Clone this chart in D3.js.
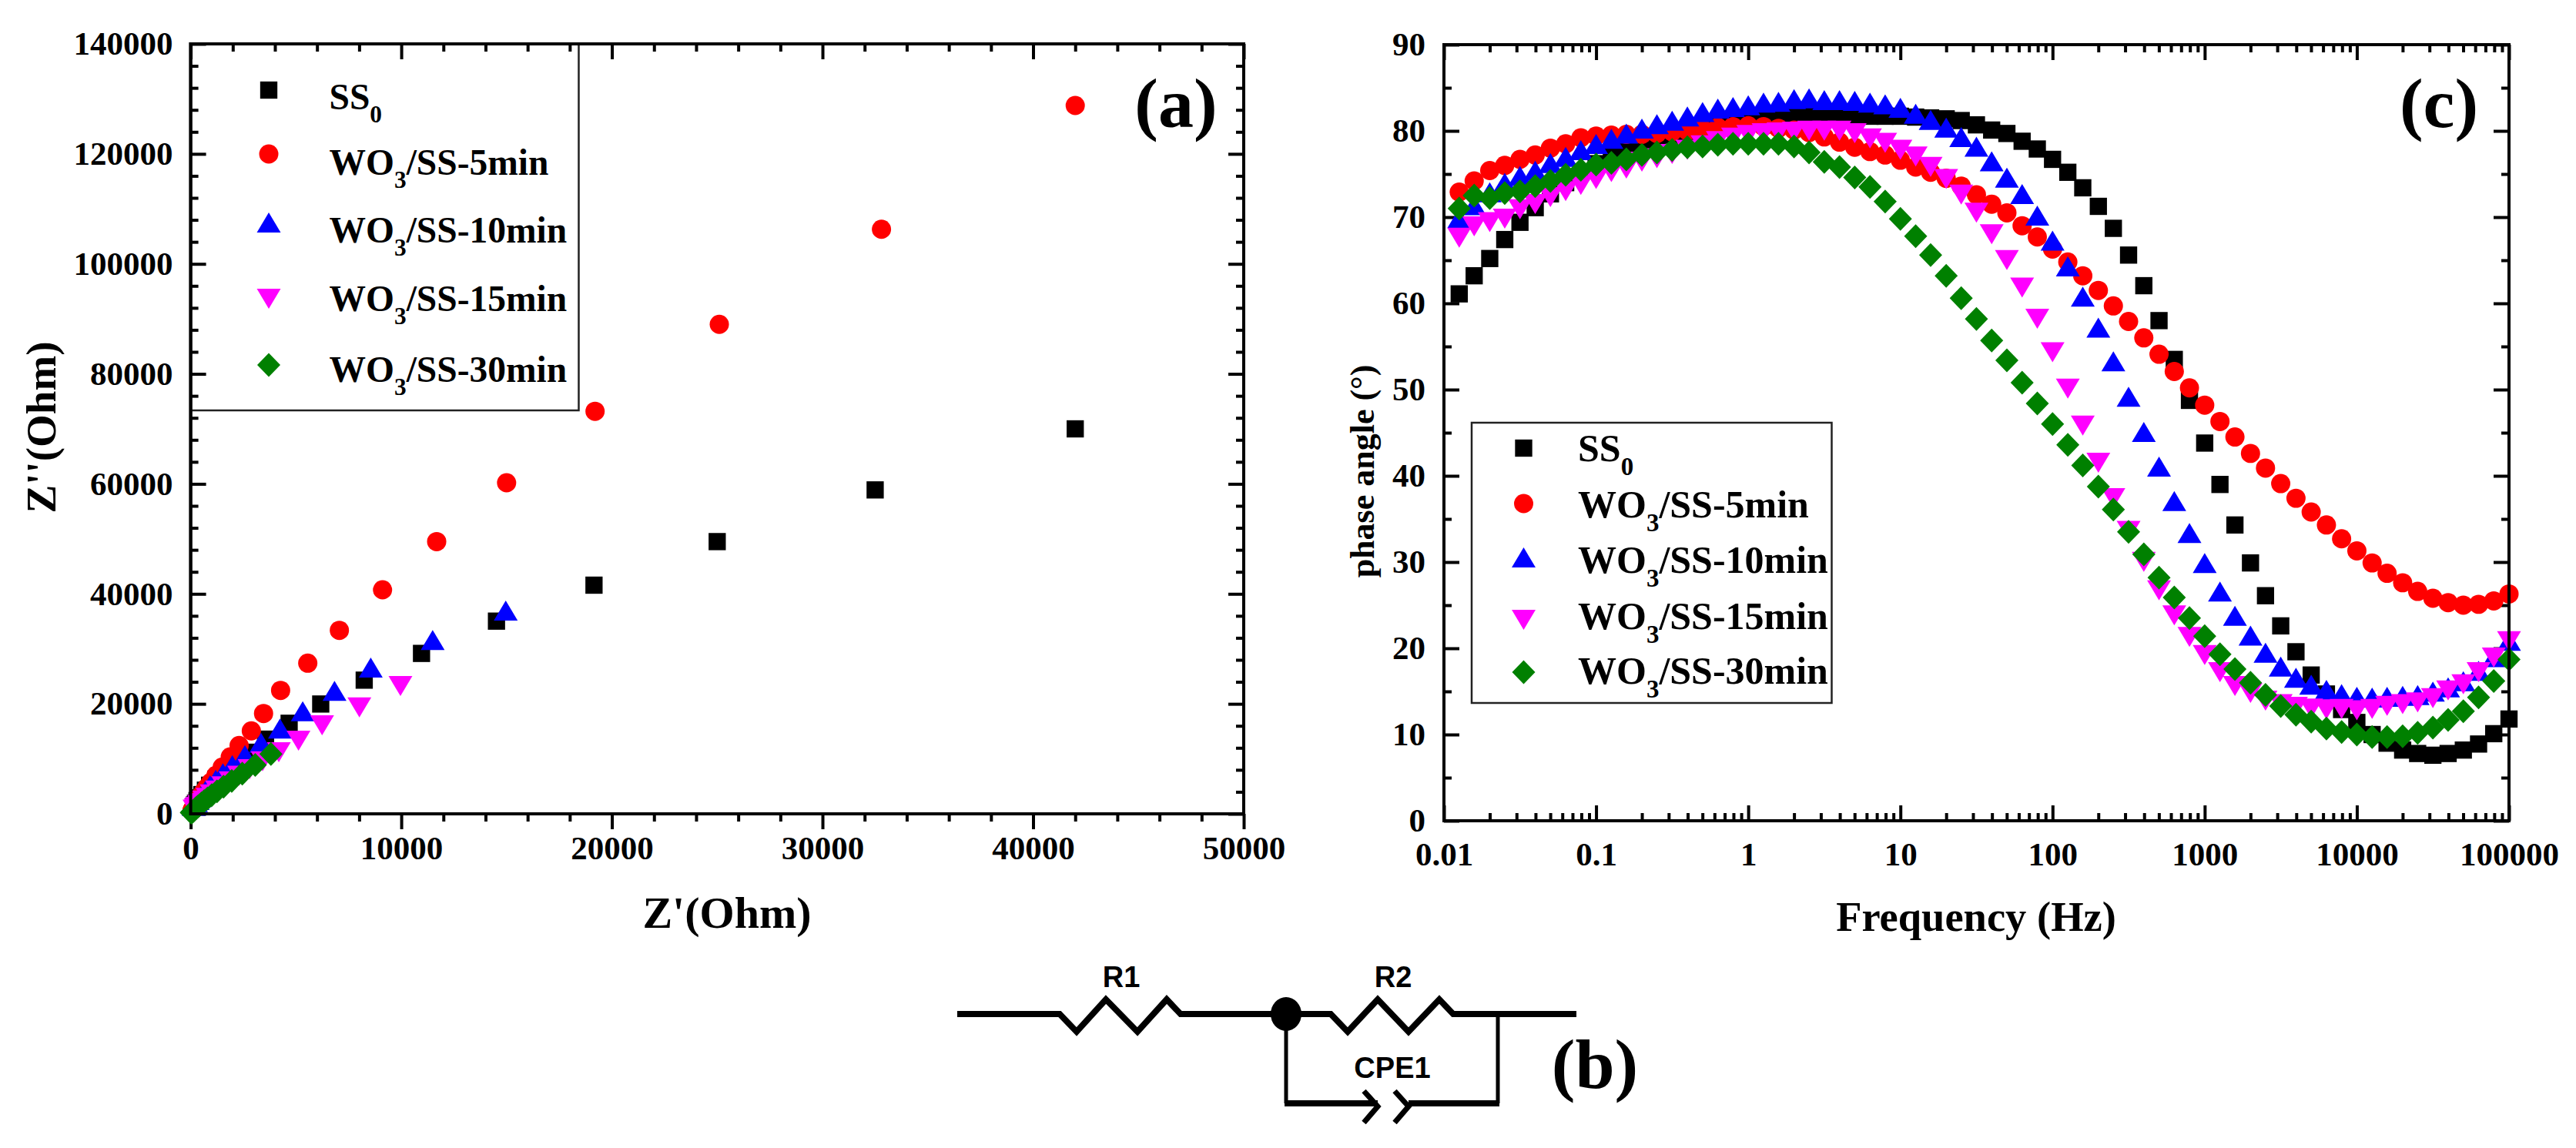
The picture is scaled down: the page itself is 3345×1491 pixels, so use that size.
<!DOCTYPE html>
<html>
<head>
<meta charset="utf-8">
<script src="https://cdn.jsdelivr.net/npm/d3@7"></script>
<style>
  body { margin: 0; background: #fff; }
  text { font-family: "Liberation Serif", serif; font-weight: bold; fill: #000; }
  .domain { display: none; }
  .tick line { stroke: #000; stroke-width: 4px; }
  .ticklabel text { font-size: 43px; }
  .circuitlabel { font-family: "Liberation Sans", sans-serif; font-size: 38px; }
</style>
</head>
<body>
<svg id="chart" width="3345" height="1491"></svg>
<script>
// legend names: base, subscript, rest
var seriesNames = [["SS", "0", ""], ["WO", "3", "/SS-5min"], ["WO", "3", "/SS-10min"], ["WO", "3", "/SS-15min"], ["WO", "3", "/SS-30min"]];
var seriesColors = ["#000000", "#ff0000", "#0000ff", "#ff00ff", "#008000"];

// (a) Nyquist, Z' and Z''
var nyqX0 = [42000, 32500, 25000, 19150, 14520, 10960, 8240, 6175, 4675, 3555, 2700, 2050, 1550, 1200, 900, 700, 530, 400, 300, 230, 170, 130];
var nyqY0 = [70000, 58900, 49500, 41580, 35040, 29170, 24310, 19970, 16470, 13580, 11200, 9200, 7600, 6300, 5200, 4300, 3500, 2900, 2400, 1950, 1600, 1300];
var nyqX1 = [42000, 32800, 25100, 19200, 15000, 11680, 9110, 7060, 5560, 4270, 3460, 2880, 2300, 1880, 1500, 1200, 950, 750, 600, 470, 370, 280, 220, 170, 120, 90, 60];
var nyqY1 = [128800, 106300, 89000, 73200, 60200, 49500, 40740, 33370, 27390, 22450, 18250, 15080, 12410, 10360, 8500, 7000, 5700, 4700, 3900, 3200, 2600, 2100, 1700, 1350, 1050, 800, 600];
var nyqX2 = [14960, 11490, 8550, 6830, 5320, 4240, 3340, 2575, 1975, 1530, 1190, 920, 720, 560, 430, 330, 250, 190, 140];
var nyqY2 = [36680, 31310, 26320, 22070, 18380, 15220, 12640, 10400, 8580, 7100, 5900, 4900, 4050, 3350, 2750, 2250, 1850, 1500, 1200];
var nyqX3 = [9960, 8010, 6240, 5120, 4185, 3415, 2800, 2300, 1900, 1550, 1250, 1000, 800, 640, 500, 400, 310, 240, 180];
var nyqY3 = [23520, 19640, 16380, 13580, 11480, 9840, 8400, 7200, 6200, 5300, 4500, 3800, 3200, 2700, 2250, 1900, 1550, 1300, 1050];
var nyqX4 = [3810, 3065, 2450, 1950, 1560, 1250, 1000, 800, 640, 510, 410, 330, 260, 210, 170, 130, 100, 70, 50, 30];
var nyqY4 = [10870, 8900, 7300, 6000, 4950, 4100, 3400, 2800, 2300, 1900, 1550, 1280, 1050, 860, 700, 560, 450, 350, 280, 220];

// (c) Bode phase
var freqs = [0.0126, 0.0158, 0.02, 0.0251, 0.0316, 0.0398, 0.0501, 0.0631, 0.0794, 0.1,
  0.126, 0.158, 0.2, 0.251, 0.316, 0.398, 0.501, 0.631, 0.794, 1,
  1.26, 1.58, 2, 2.51, 3.16, 3.98, 5.01, 6.31, 7.94, 10,
  12.6, 15.8, 20, 25.1, 31.6, 39.8, 50.1, 63.1, 79.4, 100,
  126, 158, 200, 251, 316, 398, 501, 631, 794, 1000,
  1260, 1580, 2000, 2510, 3160, 3980, 5010, 6310, 7940, 10000,
  12600, 15800, 20000, 25100, 31600, 39800, 50100, 63100, 79400, 100000];
var phase0 = [61.1, 63.2, 65.2, 67.4, 69.4, 71.1, 72.7, 74, 75.2, 76.2,
  77, 77.8, 78.4, 79, 79.5, 79.9, 80.3, 80.6, 80.9, 81.1,
  81.3, 81.5, 81.6, 81.7, 81.8, 81.8, 81.8, 81.7, 81.7, 81.7,
  81.6, 81.5, 81.4, 81.2, 80.7, 80.1, 79.7, 78.8, 77.9, 76.7,
  75.2, 73.4, 71.25, 68.7, 65.6, 62.05, 58, 53.5, 48.75, 43.8,
  39, 34.3, 29.9, 26.1, 22.6, 19.6, 16.9, 14.7, 12.9, 11.4,
  10, 9, 8.2, 7.8, 7.6, 7.8, 8.2, 8.9, 10.1, 11.8];
var phase1 = [72.9, 74.2, 75.4, 76, 76.7, 77.2, 78, 78.5, 79.2, 79.4,
  79.5, 79.6, 79.6, 79.7, 79.9, 80, 80.2, 80.4, 80.5, 80.6,
  80.5, 80.3, 80.1, 79.8, 79.3, 78.7, 78.1, 77.6, 77.2, 76.6,
  75.8, 75.2, 74.5, 73.6, 72.6, 71.5, 70.5, 69, 67.7, 66.3,
  64.8, 63.2, 61.5, 59.7, 57.9, 56, 54.1, 52.1, 50.2, 48.2,
  46.3, 44.5, 42.6, 40.9, 39.1, 37.4, 35.8, 34.3, 32.7, 31.3,
  29.9, 28.7, 27.6, 26.6, 25.8, 25.3, 25, 25.1, 25.5, 26.3];
var phase2 = [69.7, 71.2, 72.7, 73.8, 74.6, 75.2, 76.1, 76.8, 77.6, 78.3,
  78.9, 79.5, 80.1, 80.6, 81, 81.5, 82, 82.4, 82.6, 82.8,
  83.1, 83.2, 83.5, 83.6, 83.4, 83.4, 83.3, 83.1, 82.9, 82.5,
  81.8, 81.1, 80.2, 79.1, 78, 76.3, 74.4, 72.5, 70, 67.1,
  64.1, 60.6, 57, 53.1, 49, 44.9, 40.9, 36.9, 33.2, 29.7,
  26.4, 23.6, 21.3, 19.3, 17.7, 16.4, 15.6, 15, 14.5, 14.2,
  14.1, 14.2, 14.3, 14.4, 14.8, 15.3, 16, 17.2, 18.8, 20.7];
var phase3 = [67.8, 69.1, 69.6, 70, 71.1, 71.7, 72.5, 73.2, 73.9, 74.6,
  75.4, 75.8, 76.6, 77, 77.5, 78, 78.5, 79, 79.4, 79.7,
  79.9, 80, 80.1, 80.2, 80.2, 80.2, 79.9, 79.3, 78.8, 78,
  77.2, 76, 74.6, 72.8, 70.7, 68.2, 65.2, 62, 58.4, 54.5,
  50.3, 46, 41.7, 37.6, 33.8, 30.2, 26.9, 24, 21.5, 19.4,
  17.4, 15.8, 15, 14.1, 13.7, 13.4, 13.2, 13.1, 13.15, 13,
  13.15, 13.5, 13.7, 13.9, 14.4, 15.3, 16, 17.4, 19.1, 21];
var phase4 = [71, 72.5, 72.2, 72.8, 73, 73.6, 74.2, 74.9, 75.5, 76.1,
  76.3, 76.7, 77.2, 77.5, 77.8, 78.1, 78.2, 78.4, 78.5, 78.5,
  78.5, 78.5, 78.2, 77.5, 76.4, 75.8, 74.6, 73.5, 71.8, 69.8,
  67.8, 65.6, 63.2, 60.6, 58.2, 55.7, 53.4, 50.8, 48.4, 46,
  43.6, 41.2, 38.75, 36.1, 33.5, 30.9, 28.2, 25.9, 23.5, 21.4,
  19.3, 17.6, 16, 14.6, 13.3, 12.3, 11.5, 10.7, 10.3, 10,
  9.7, 9.7, 9.8, 10.2, 10.8, 11.7, 12.7, 14.3, 16.2, 18.7];

var nyqXTicks = [0, 10000, 20000, 30000, 40000, 50000];
var nyqYTicks = [0, 20000, 40000, 60000, 80000, 100000, 120000, 140000];
var freqTicks = [0.01, 0.1, 1, 10, 100, 1000, 10000, 100000];
var freqTickLabels = ["0.01", "0.1", "1", "10", "100", "1000", "10000", "100000"];
var phaseTicks = [0, 10, 20, 30, 40, 50, 60, 70, 80, 90];

var svg = d3.select("#chart");
svg.append("rect").attr("width", 3345).attr("height", 1491).attr("fill", "#fff");

// markers, same look in both panels
var triUp = { draw: function(c) { c.moveTo(0, -15); c.lineTo(15.5, 11); c.lineTo(-15.5, 11); c.closePath(); } };
var triDown = { draw: function(c) { c.moveTo(0, 15); c.lineTo(15.5, -11); c.lineTo(-15.5, -11); c.closePath(); } };
var diamond = { draw: function(c) { c.moveTo(0, -15.5); c.lineTo(15, 0); c.lineTo(0, 15.5); c.lineTo(-15, 0); c.closePath(); } };
var markerPaths = [
  d3.symbol().type(d3.symbolSquare).size(500)(),
  d3.symbol().type(d3.symbolCircle).size(490)(),
  d3.symbol().type(triUp)(),
  d3.symbol().type(triDown)(),
  d3.symbol().type(diamond)()
];

var plotA = { left: 247.6, right: 1615, top: 57, bottom: 1057 };
var plotC = { left: 1875, right: 3258, top: 58, bottom: 1066 };

var xA = d3.scaleLinear().domain([0, 50000]).range([plotA.left, plotA.right]);
var yA = d3.scaleLinear().domain([0, 140000]).range([plotA.bottom, plotA.top]);
var xC = d3.scaleLog().domain([0.01, 100000]).range([plotC.left, plotC.right]);
var yC = d3.scaleLinear().domain([0, 90]).range([plotC.bottom, plotC.top]);

var drawAxis = function(axisFn, scale, pos, major, minor, bigLen, smallLen, labels, pad) {
  var minorG = svg.append("g").attr("transform", pos);
  minorG.call(axisFn(scale).tickValues(minor).tickSize(smallLen).tickFormat(""));
  var majorG = svg.append("g").attr("transform", pos).attr("class", labels ? "ticklabel" : null);
  majorG.call(axisFn(scale).tickValues(major).tickSize(bigLen).tickPadding(pad || 0)
    .tickFormat(labels ? function(d, i) { return labels[i]; } : ""));
  majorG.selectAll("text").attr("fill", "#000");
};

var frame = function(p) {
  svg.append("rect")
    .attr("x", p.left)
    .attr("y", p.top)
    .attr("width", p.right - p.left)
    .attr("height", p.bottom - p.top)
    .attr("fill", "none")
    .attr("stroke", "#000")
    .attr("stroke-width", 4);
};

var minorOf = function(lo, hi, step, bigStep) {
  return d3.range(lo, hi + step / 2, step).filter(function(v) { return v % bigStep !== 0; });
};

// panel a axes
var xMinorA = minorOf(0, 50000, 2000, 10000);
var yMinorA = minorOf(0, 140000, 4000, 20000);
var fmt = function(v) { return String(v); };
drawAxis(d3.axisBottom, xA, "translate(0," + plotA.bottom + ")", nyqXTicks, xMinorA, 20, 10, nyqXTicks.map(fmt), 8);
drawAxis(d3.axisBottom, xA, "translate(0," + plotA.top + ")", nyqXTicks, xMinorA, 20, 10);
drawAxis(d3.axisRight, yA, "translate(" + plotA.left + ",0)", nyqYTicks, yMinorA, 20, 10);
drawAxis(d3.axisLeft, yA, "translate(" + plotA.right + ",0)", nyqYTicks, yMinorA, 20, 10);
drawAxis(d3.axisLeft, yA, "translate(" + (plotA.left - 23) + ",0)", nyqYTicks, [], 0, 0, nyqYTicks.map(fmt), 0);
frame(plotA);

// panel c axes
var xMinorC = xC.ticks().filter(function(v) { return freqTicks.indexOf(v) < 0; });
var yMinorC = minorOf(0, 90, 5, 10);
drawAxis(d3.axisTop, xC, "translate(0," + plotC.bottom + ")", freqTicks, xMinorC, 20, 10);
drawAxis(d3.axisBottom, xC, "translate(0," + plotC.top + ")", freqTicks, xMinorC, 20, 10);
drawAxis(d3.axisBottom, xC, "translate(0," + (plotC.bottom + 27) + ")", freqTicks, [], 0, 0, freqTickLabels, 0);
drawAxis(d3.axisRight, yC, "translate(" + plotC.left + ",0)", phaseTicks, yMinorC, 20, 10);
drawAxis(d3.axisLeft, yC, "translate(" + plotC.right + ",0)", phaseTicks, yMinorC, 20, 10);
drawAxis(d3.axisLeft, yC, "translate(" + (plotC.left - 24) + ",0)", phaseTicks, [], 0, 0, phaseTicks.map(fmt), 0);
frame(plotC);

// legend box of panel a hangs off the frame
svg.append("path")
  .attr("d", "M751.5," + plotA.top + "V533H" + plotA.left)
  .attr("fill", "none")
  .attr("stroke", "#222")
  .attr("stroke-width", 2.5);
svg.append("rect")
  .attr("x", 1911).attr("y", 549).attr("width", 467.5).attr("height", 364)
  .attr("fill", "#fff")
  .attr("stroke", "#222")
  .attr("stroke-width", 2.5);

// points
var plotPoints = function(pts, i, xScale, yScale) {
  svg.append("g")
    .selectAll("path")
    .data(pts)
    .enter()
    .append("path")
      .attr("d", markerPaths[i])
      .attr("fill", seriesColors[i])
      .attr("transform", function(d) { return "translate(" + xScale(d[0]) + "," + yScale(d[1]) + ")"; });
};

[[nyqX0, nyqY0], [nyqX1, nyqY1], [nyqX2, nyqY2], [nyqX3, nyqY3], [nyqX4, nyqY4]].forEach(function(s, i) {
  plotPoints(d3.zip(s[0], s[1]), i, xA, yA);
});
[phase0, phase1, phase2, phase3, phase4].forEach(function(s, i) {
  plotPoints(d3.zip(freqs, s), i, xC, yC);
});

// re-draw axis edge over the markers that sit on it
frame(plotC);
frame(plotA);

// legends
var legend = function(markerX, textX, markerYs, textYs, fontSize) {
  seriesNames.forEach(function(name, i) {
    svg.append("path")
      .attr("d", markerPaths[i])
      .attr("fill", seriesColors[i])
      .attr("transform", "translate(" + markerX + "," + markerYs[i] + ")");
    var t = svg.append("text")
      .attr("x", textX)
      .attr("y", textYs[i])
      .style("font-size", fontSize + "px");
    t.append("tspan").text(name[0]);
    t.append("tspan").attr("dy", fontSize * 0.35).style("font-size", (fontSize * 0.66) + "px").text(name[1]);
    t.append("tspan").attr("dy", -fontSize * 0.35).text(name[2]);
  });
};
legend(349, 427.5, [117, 200, 291, 386, 474], [142, 227, 315, 404, 496], 47.5);
legend(1978.5, 2049, [582, 654, 726, 803, 873], [599, 672, 744, 817, 888], 50);

// axis titles
var title = function(txt, x, y, rot, size) {
  svg.append("text")
    .text(txt)
    .attr("text-anchor", "middle")
    .attr("transform", "translate(" + x + "," + y + ")" + (rot ? " rotate(" + rot + ")" : ""))
    .style("font-size", size + "px");
};
title("Z'(Ohm)", 944, 1205, 0, 58);
title("Z''(Ohm)", 72, 555, -90, 55);
title("Frequency (Hz)", 2566, 1209, 0, 54.5);
title("phase angle (\u00b0)", 1784, 612, -90, 44);
title("(a)", 1527, 165, 0, 92);
title("(c)", 3167, 165, 0, 92);
title("(b)", 2071, 1413, 0, 92);

// equivalent circuit
var wire = d3.line();
var stroke = function(pts, w) {
  svg.append("path")
    .attr("d", wire(pts))
    .attr("fill", "none")
    .attr("stroke", "#000")
    .attr("stroke-width", w)
    .attr("stroke-linejoin", "miter");
};
var yW = 1317;
stroke([[1243, yW], [1376, yW], [1398, 1340], [1436, 1298], [1477, 1340], [1515, 1298], [1533, yW], [1728, yW], [1750, 1340], [1789, 1298], [1829, 1340], [1869, 1298], [1887, yW], [2047, yW]], 8);
stroke([[1670, yW], [1670, 1433]], 5);
stroke([[1945, yW], [1945, 1433]], 5);
stroke([[1668, 1433], [1789, 1433]], 8);
stroke([[1829, 1433], [1947, 1433]], 8);
stroke([[1771, 1417], [1789, 1437], [1771, 1458]], 7);
stroke([[1811, 1417], [1829, 1437], [1811, 1458]], 7);
svg.append("ellipse").attr("cx", 1670).attr("cy", yW).attr("rx", 20).attr("ry", 22).attr("fill", "#000");
[["R1", 1456, 1282], ["R2", 1809, 1282], ["CPE1", 1808, 1400]].forEach(function(l) {
  svg.append("text")
    .attr("class", "circuitlabel")
    .attr("text-anchor", "middle")
    .attr("x", l[1])
    .attr("y", l[2])
    .text(l[0]);
});
</script>
</body>
</html>
